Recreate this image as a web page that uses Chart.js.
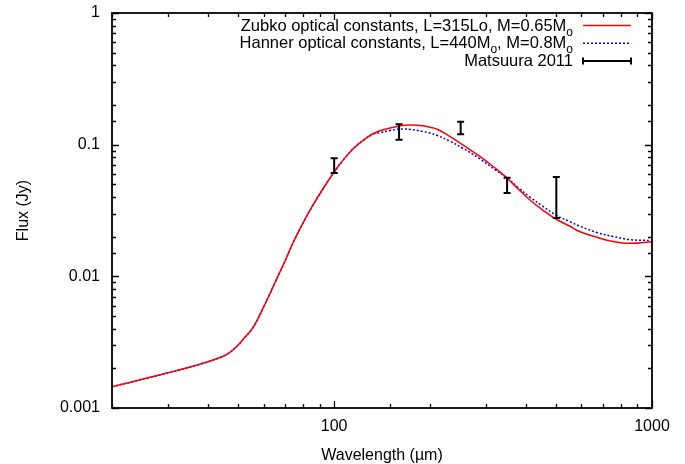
<!DOCTYPE html>
<html>
<head>
<meta charset="utf-8">
<script src="https://cdn.jsdelivr.net/npm/chart.js@4"></script>
<style>
  html, body { margin: 0; padding: 0; background: #fff; }
  #chart { display: block; }
</style>
</head>
<body>
<canvas id="chart" width="685" height="464"></canvas>
<script>
// model curves (wavelength in micron, flux in Jy)
const wavelength = [20, 30, 38, 44, 47, 50, 52, 55, 57, 60, 62, 65, 67.5, 70, 74, 80, 86, 93, 100, 107, 115, 123, 132,
    140, 150, 158, 166, 174, 182, 190, 200, 211, 231, 254, 288, 320, 347, 380, 413, 450, 495, 552, 594, 671, 754, 853, 1000];
const zubkoFlux = [0.00145, 0.00185, 0.00216, 0.00243, 0.00265, 0.00302, 0.00337, 0.00395, 0.00455, 0.00586, 0.00691,
    0.00886, 0.01078, 0.0130, 0.01768, 0.02566, 0.03515, 0.0477, 0.0620, 0.077, 0.0935, 0.1075, 0.1205,
    0.128, 0.1337, 0.1375, 0.1404, 0.1411, 0.1406, 0.139, 0.1355, 0.131, 0.1155, 0.0995, 0.081, 0.0668, 0.0568, 0.0459,
    0.038, 0.0323, 0.0275, 0.0240, 0.0218, 0.0198, 0.0184, 0.0178, 0.0183];
const hannerFlux = [0.00145, 0.00185, 0.00216, 0.00243, 0.00265, 0.00302, 0.00337, 0.00395, 0.00455, 0.00586, 0.00691,
    0.00886, 0.01078, 0.0130, 0.01768, 0.02566, 0.03515, 0.0477, 0.0620, 0.077, 0.0935, 0.107, 0.1195,
    0.1235, 0.128, 0.1308, 0.1318, 0.1305, 0.1285, 0.126, 0.1227, 0.1175, 0.1065, 0.0939, 0.0777, 0.0647, 0.0568, 0.047,
    0.040, 0.0345, 0.0295, 0.0260, 0.0240, 0.0215, 0.0201, 0.0190, 0.0187];

// Matsuura 2011 photometry with error bars
const matWavelength = [100, 160, 250, 350, 500];
const matFlux = [0.069, 0.125, 0.134, 0.049, 0.040];
const matLow = [0.061, 0.109, 0.120, 0.043, 0.0277];
const matHigh = [0.079, 0.143, 0.149, 0.056, 0.0569];

const xTickValues = [100, 1000];
const xTickLabels = ['100', '1000'];
const yTickValues = [0.001, 0.01, 0.1, 1];
const yTickLabels = ['0.001', '0.01', '0.1', '1'];

const FONT = 'Liberation Sans, Arial, Helvetica, sans-serif';

const toPoints = (xs, ys) => xs.map((x, i) => ({ x: x, y: ys[i] }));
const labelFor = (values, labels) => value => {
    const i = values.findIndex(v => Math.abs(Math.log10(v) - Math.log10(value)) < 1e-6);
    return i >= 0 ? labels[i] : '';
};
const isDecade = v => Math.abs(Math.log10(v) - Math.round(Math.log10(v))) < 1e-6;

// gnuplot-like frame with inward ticks on all four sides
const framePlugin = {
    id: 'frame',
    afterDraw(chart) {
        const { ctx, chartArea: a, scales: { x, y } } = chart;
        ctx.save();
        ctx.strokeStyle = '#000';
        ctx.lineWidth = 1.3;
        ctx.beginPath();
        x.ticks.forEach(t => {
            const px = Math.round(x.getPixelForValue(t.value)) + 0.5;
            const len = isDecade(t.value) ? 7 : 4;
            ctx.moveTo(px, a.bottom); ctx.lineTo(px, a.bottom - len);
            ctx.moveTo(px, a.top); ctx.lineTo(px, a.top + len);
        });
        y.ticks.forEach(t => {
            const py = Math.round(y.getPixelForValue(t.value)) + 0.5;
            const len = isDecade(t.value) ? 7 : 4;
            ctx.moveTo(a.left, py); ctx.lineTo(a.left + len, py);
            ctx.moveTo(a.right, py); ctx.lineTo(a.right - len, py);
        });
        ctx.stroke();
        ctx.lineWidth = 1.8;
        ctx.strokeRect(a.left, a.top, a.right - a.left, a.bottom - a.top);
        ctx.restore();
    }
};

// vertical error bars for the Matsuura points
const errorBarPlugin = {
    id: 'errorBars',
    afterDatasetsDraw(chart) {
        const { ctx, scales: { x, y } } = chart;
        ctx.save();
        ctx.strokeStyle = '#000';
        ctx.lineWidth = 2;
        matWavelength.forEach((w, i) => {
            const px = x.getPixelForValue(w);
            const top = y.getPixelForValue(matHigh[i]);
            const bot = y.getPixelForValue(matLow[i]);
            ctx.beginPath();
            ctx.moveTo(px, top); ctx.lineTo(px, bot);
            ctx.moveTo(px - 3.5, top); ctx.lineTo(px + 3.5, top);
            ctx.moveTo(px - 3.5, bot); ctx.lineTo(px + 3.5, bot);
            ctx.stroke();
        });
        ctx.restore();
    }
};

// key in the top right corner, text right-aligned with subscripts
const keyRows = [
    { parts: [['Zubko optical constants, L=315Lo, M=0.65M', 0], ['o', 1]], style: 'red' },
    { parts: [['Hanner optical constants, L=440M', 0], ['o', 1], [', M=0.8M', 0], ['o', 1]], style: 'blue' },
    { parts: [['Matsuura 2011', 0]], style: 'err' }
];
const keyPlugin = {
    id: 'key',
    afterDraw(chart) {
        const ctx = chart.ctx;
        const textRight = 573, sampleL = 583, sampleR = 631;
        ctx.save();
        ctx.fillStyle = '#000';
        ctx.textBaseline = 'alphabetic';
        ctx.textAlign = 'left';
        keyRows.forEach((row, r) => {
            const base = 30.5 + r * 17.7;
            const fonts = ['16.5px ' + FONT, '12px ' + FONT];
            let width = 0;
            row.parts.forEach(([t, s]) => { ctx.font = fonts[s]; width += ctx.measureText(t).width; });
            let cx = textRight - width;
            row.parts.forEach(([t, s]) => {
                ctx.font = fonts[s];
                ctx.fillText(t, cx, base + (s ? 5 : 0));
                cx += ctx.measureText(t).width;
            });
            const ly = base - 5;
            ctx.beginPath();
            if (row.style === 'red') {
                ctx.strokeStyle = '#ff0000'; ctx.lineWidth = 1.5; ctx.setLineDash([]);
                ctx.moveTo(sampleL, ly); ctx.lineTo(sampleR, ly);
            } else if (row.style === 'blue') {
                ctx.strokeStyle = '#0000ff'; ctx.lineWidth = 1.5; ctx.setLineDash([2, 2]);
                ctx.moveTo(sampleL, ly); ctx.lineTo(sampleR, ly);
            } else {
                ctx.strokeStyle = '#000'; ctx.lineWidth = 2; ctx.setLineDash([]);
                ctx.moveTo(sampleL, ly); ctx.lineTo(sampleR, ly);
                ctx.moveTo(sampleL, ly - 3.5); ctx.lineTo(sampleL, ly + 3.5);
                ctx.moveTo(sampleR, ly - 3.5); ctx.lineTo(sampleR, ly + 3.5);
            }
            ctx.stroke();
        });
        ctx.restore();
    }
};

new Chart(document.getElementById('chart').getContext('2d'), {
    type: 'scatter',
    data: {
        datasets: [
            {
                label: 'Zubko',
                data: toPoints(wavelength, zubkoFlux),
                showLine: true,
                borderColor: '#ff0000',
                borderWidth: 1.5,
                pointRadius: 0,
                tension: 0.4
            },
            {
                label: 'Hanner',
                data: toPoints(wavelength, hannerFlux),
                showLine: true,
                borderColor: '#0000ff',
                borderWidth: 1.5,
                borderDash: [2, 2],
                pointRadius: 0,
                tension: 0.4
            },
            {
                label: 'Matsuura 2011',
                data: toPoints(matWavelength, matFlux),
                showLine: false,
                pointRadius: 0
            }
        ]
    },
    options: {
        responsive: false,
        animation: false,
        devicePixelRatio: 1,
        layout: { padding: { top: 13, right: 33, left: 0, bottom: 0 } },
        plugins: {
            legend: { display: false },
            tooltip: { enabled: false }
        },
        scales: {
            x: {
                type: 'logarithmic',
                min: 20,
                max: 1000,
                afterFit: s => { s.height = 56; s.paddingLeft = 0; s.paddingRight = 0; },
                grid: { display: false, drawTicks: false },
                border: { display: false },
                ticks: {
                    autoSkip: false,
                    maxRotation: 0,
                    padding: 9,
                    color: '#000',
                    font: { family: FONT, size: 16 },
                    callback: labelFor(xTickValues, xTickLabels)
                },
                title: {
                    display: true,
                    text: 'Wavelength (\u00b5m)',
                    color: '#000',
                    font: { family: FONT, size: 16, lineHeight: 1 },
                    padding: { top: 0, bottom: 0 }
                }
            },
            y: {
                type: 'logarithmic',
                min: 0.001,
                max: 1,
                afterFit: s => { s.width = 112; s.paddingTop = 0; s.paddingBottom = 0; },
                grid: { display: false, drawTicks: false },
                border: { display: false },
                ticks: {
                    autoSkip: false,
                    padding: 12,
                    color: '#000',
                    font: { family: FONT, size: 16 },
                    callback: labelFor(yTickValues, yTickLabels)
                },
                title: {
                    display: true,
                    text: 'Flux (Jy)',
                    color: '#000',
                    font: { family: FONT, size: 16, lineHeight: 1 },
                    padding: { top: 16, bottom: 0 }
                }
            }
        }
    },
    plugins: [errorBarPlugin, framePlugin, keyPlugin]
});
</script>
</body>
</html>
